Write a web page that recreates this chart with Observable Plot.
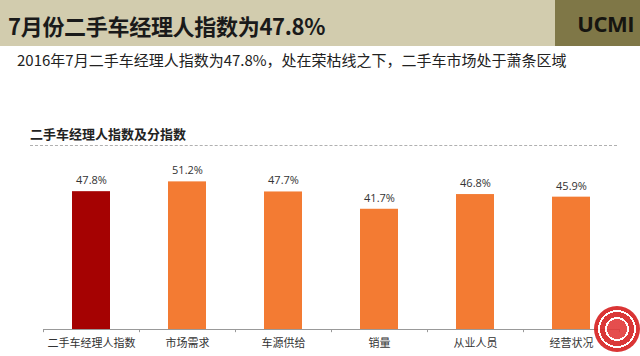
<!DOCTYPE html>
<html>
<head>
<meta charset="utf-8">
<script src="https://cdn.jsdelivr.net/npm/d3@7"></script>
<script src="https://cdn.jsdelivr.net/npm/@observablehq/plot@0.6"></script>
<style>
  html, body { margin: 0; padding: 0; background: #fff; }
  body { width: 640px; height: 356px; position: relative; overflow: hidden;
         font-family: "Noto Sans CJK SC", "Noto Sans", sans-serif; }
  #header { position: absolute; left: 0; top: 0; width: 640px; height: 46px; background: #d2ccae; }
  #brand { position: absolute; left: 555px; top: 0; width: 85px; height: 46px; background: #7f7747;
           color: #161510; font: bold 22px "Open Sans", "DejaVu Sans", sans-serif; line-height: 46px;
           text-align: right; padding-right: 6px; box-sizing: border-box; letter-spacing: -0.5px; }
  #title { position: absolute; left: 8px; top: 0; height: 46px; line-height: 50px;
           font-size: 22px; font-weight: bold; color: #1a1a1a; letter-spacing: -0.3px; }
  #subtitle { position: absolute; left: 17px; top: 50px; font-size: 15px; color: #222; line-height: 20px; }
  #ctitle { position: absolute; left: 30px; top: 125px; font-size: 13px; font-weight: bold; color: #222; line-height: 18px; }
  #dash { position: absolute; left: 30px; top: 145px; width: 587px; height: 0; border-top: 1.5px dashed #b0b0b0; }
  #chart { position: absolute; left: 0; top: 150px; }
  #logo { position: absolute; left: 594px; top: 306px; width: 46px; height: 46px; border-radius: 50%;
          background: radial-gradient(circle, #e23a3a 0 10px, #fff 10px 12px, #d62222 12px 17px, #fff 17px 19px, #d61f1f 19px 23px);
          opacity: 0.9; }
</style>
</head>
<body>
<div id="header"><div id="title">7月份二手车经理人指数为47.8%</div><div id="brand">UCMI</div></div>
<div id="subtitle">2016年7月二手车经理人指数为47.8%，处在荣枯线之下，二手车市场处于萧条区域</div>
<div id="ctitle">二手车经理人指数及分指数</div>
<div id="dash"></div>
<div id="chart"></div>
<div id="logo"></div>
<script>
const categories = ["二手车经理人指数", "市场需求", "车源供给", "销量", "从业人员", "经营状况"];
const values = [47.8, 51.2, 47.7, 41.7, 46.8, 45.9];
const labels = ["47.8%", "51.2%", "47.7%", "41.7%", "46.8%", "45.9%"];
const colors = ["#a50202", "#f37b33", "#f37b33", "#f37b33", "#f37b33", "#f37b33"];

const data = categories.map((c, i) => ({cat: c, value: values[i], label: labels[i], color: colors[i]}));

const width = 640, marginLeft = 43, marginRight = 21;
const step = (width - marginLeft - marginRight) / categories.length;

const chart = Plot.plot({
  width: width,
  height: 206,
  marginLeft: marginLeft,
  marginRight: marginRight,
  marginTop: 6,
  marginBottom: 27,
  style: {fontFamily: '"Noto Sans CJK SC", sans-serif', background: "transparent"},
  x: {domain: categories, paddingInner: 0.6, paddingOuter: 0.3, label: null, tickSize: 0, tickPadding: 10},
  y: {domain: [0, 60], axis: null},
  marks: [
    Plot.barY(data, {x: "cat", y: "value", fill: "color"}),
    Plot.text(data, {x: "cat", y: "value", text: "label", dy: -11, fontSize: 11, fill: "#333",
                     fontFamily: '"Open Sans", "DejaVu Sans", sans-serif'}),
    Plot.ruleY([0], {stroke: "#999", strokeWidth: 1}),
    Plot.ruleX(categories, {x: d => d, y1: 0, y2: -1.1, dx: -step / 2, stroke: "#999"}),
    Plot.ruleX([categories[categories.length - 1]], {x: d => d, y1: 0, y2: -1.1, dx: step / 2, stroke: "#999"}),
    Plot.axisX({tickSize: 0, tickPadding: 10, fontSize: 11, fill: "#333", label: null})
  ]
});
document.getElementById("chart").appendChild(chart);
</script>
</body>
</html>
